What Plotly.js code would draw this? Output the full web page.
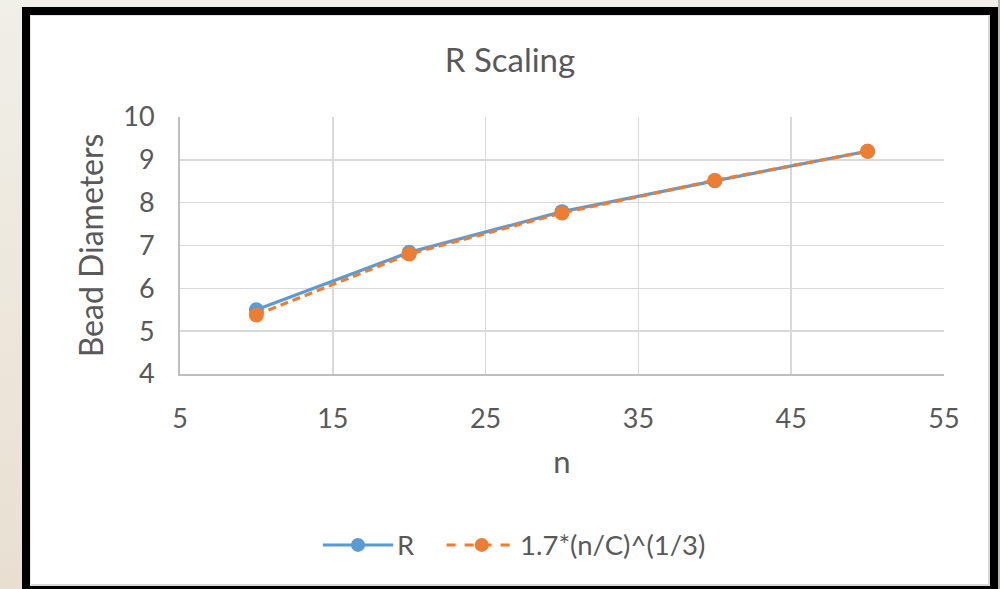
<!DOCTYPE html>
<html>
<head>
<meta charset="utf-8">
<script src="https://cdn.plot.ly/plotly-3.0.1.min.js"></script>
<style>
  html, body { margin: 0; padding: 0; width: 1000px; height: 589px; overflow: hidden; }
  body { background: linear-gradient(to bottom, #f0efe8 0%, #ece6da 60%, #e8dfd1 100%); position: relative; }
  #rightEdge { position: absolute; left: 998px; top: 0; width: 2px; height: 589px; background: #b9b6ae; }
  #frame {
    position: absolute; left: 22px; top: 7px;
    width: 960px; height: 571px;
    border-left: 8px solid #000; border-right: 8px solid #000;
    border-top: 8px solid #000; border-bottom: 3px solid #000;
    background: #fff;
  }
  #inner { position: absolute; left: 0; top: 0; width: 960px; height: 571px;
    box-shadow: inset 1px 1px 0 #e6e6e6, inset -2px -2px 0 #d9d9d9; pointer-events: none; }
  #chart { position: absolute; left: 0; top: 0; width: 960px; height: 571px; }
</style>
</head>
<body>
<div id="rightEdge"></div>
<div id="frame">
  <div id="chart"></div>
  <div id="inner"></div>
</div>
<script>
// Bead counts and measured / predicted radii (in bead diameters)
const n = [10, 20, 30, 40, 50];
const rMeasured = [5.5, 6.84, 7.79, 8.51, 9.2];
const rPredicted = [5.38, 6.8, 7.76, 8.52, 9.2];

const seriesNames = ['R', '1.7*(n/C)^(1/3)'];
const xTicks = [5, 15, 25, 35, 45, 55];
const yTicks = [4, 5, 6, 7, 8, 9, 10];

const BLUE = '#5b9bd5';
const ORANGE = '#ed7d31';
const TEXT = '#595959';
const FONT = 'Lato, "Open Sans", sans-serif';

const traces = [
  {
    x: n, y: rMeasured, name: seriesNames[0], type: 'scatter', mode: 'lines+markers',
    line: { color: BLUE, width: 3.2 },
    marker: { color: BLUE, size: 15 },
    showlegend: false, cliponaxis: false
  },
  {
    x: n, y: rPredicted, name: seriesNames[1], type: 'scatter', mode: 'lines+markers',
    line: { color: ORANGE, width: 3.2, dash: '8px,5px' },
    marker: { color: ORANGE, size: 15 },
    showlegend: false, cliponaxis: false
  }
];

// Legend drawn below the plot: a line with a centred marker, then the label
const legY = -0.665;
const legendItems = [
  { x0: 0.187, x1: 0.279, color: BLUE, dash: 'solid', label: seriesNames[0] },
  { x0: 0.349, x1: 0.441, color: ORANGE, dash: 'dash', label: seriesNames[1] }
];
const shapes = [];
const annotations = [];
legendItems.forEach(it => {
  shapes.push({ type: 'line', xref: 'paper', yref: 'paper', x0: it.x0, x1: it.x1, y0: legY, y1: legY,
    line: { color: it.color, width: 3, dash: it.dash } });
  const cx = (it.x0 + it.x1) / 2;
  const rx = 7 / 764, ry = 7 / 257;
  shapes.push({ type: 'circle', xref: 'paper', yref: 'paper', x0: cx - rx, x1: cx + rx, y0: legY - ry, y1: legY + ry,
    fillcolor: it.color, line: { color: it.color, width: 0 } });
  annotations.push({ xref: 'paper', yref: 'paper', x: it.x1 + 0.002, y: legY, xanchor: 'left', yanchor: 'middle',
    text: it.label, showarrow: false, font: { family: FONT, size: 27.5, color: TEXT } });
});

const layout = {
  width: 960, height: 571,
  margin: { l: 150, r: 46, t: 102, b: 212 },
  paper_bgcolor: 'rgba(0,0,0,0)', plot_bgcolor: '#fff',
  font: { family: FONT, color: TEXT },
  title: { text: 'R Scaling', font: { family: FONT, size: 33, color: TEXT },
    x: 0.5, xref: 'container', y: 0.921, yref: 'container', yanchor: 'middle' },
  showlegend: false,
  xaxis: {
    range: [5, 55], tickvals: xTicks, ticktext: xTicks.map(String), zeroline: false,
    showgrid: true, gridcolor: '#d9d9d9', gridwidth: 1.5,
    showline: true, linecolor: '#bfbfbf', linewidth: 2,
    ticks: '', ticklabelstandoff: 20,
    tickfont: { family: FONT, size: 27, color: TEXT },
    title: { text: 'n', font: { family: FONT, size: 31, color: TEXT }, standoff: 18 },
    automargin: false, fixedrange: true
  },
  yaxis: {
    range: [4, 10], tickvals: yTicks, ticktext: yTicks.map(String), zeroline: false,
    showgrid: true, gridcolor: '#d9d9d9', gridwidth: 1.5,
    showline: true, linecolor: '#bfbfbf', linewidth: 2,
    ticks: '', ticklabelstandoff: 18,
    tickfont: { family: FONT, size: 27, color: TEXT },
    title: { text: 'Bead Diameters', font: { family: FONT, size: 32, color: TEXT }, standoff: 10 },
    automargin: false, fixedrange: true
  },
  shapes: shapes,
  annotations: annotations
};

Plotly.newPlot('chart', traces, layout, { staticPlot: true, displayModeBar: false });
</script>
</body>
</html>
